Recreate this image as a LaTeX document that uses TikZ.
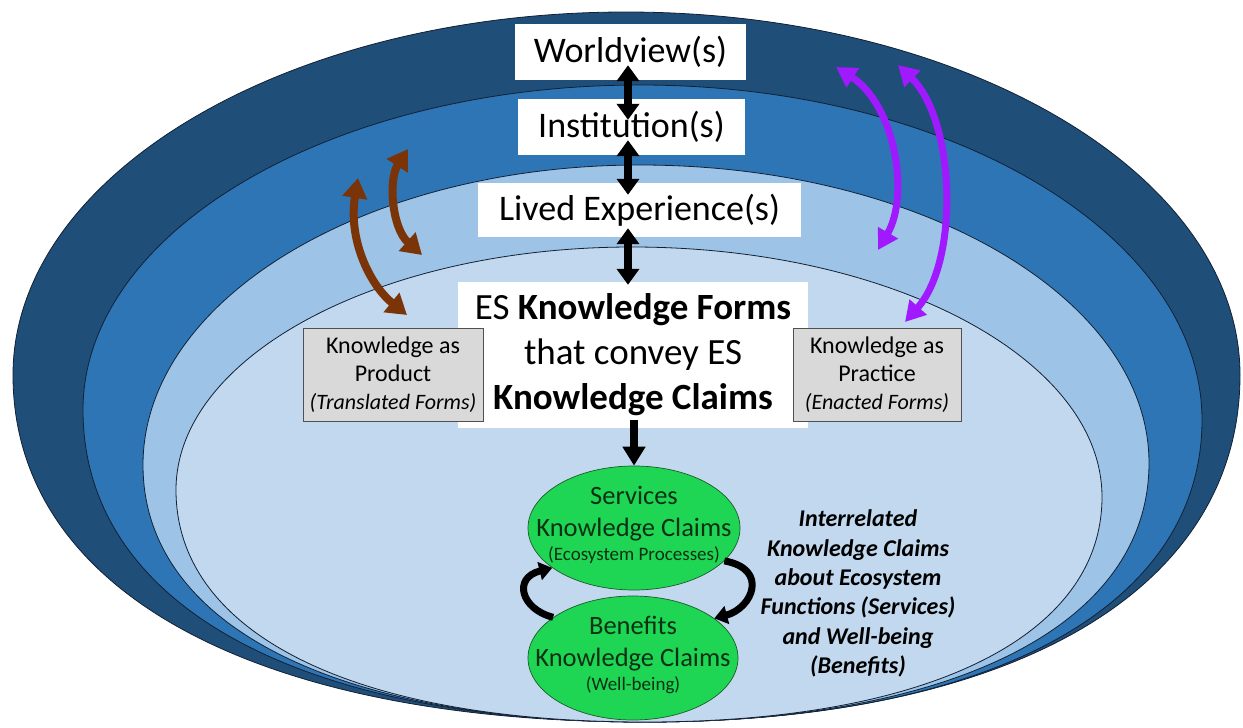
\documentclass[tikz,border=0pt]{standalone}
\usepackage{fontspec}
\setmainfont{Carlito}
\usetikzlibrary{arrows.meta,shapes.geometric,calc}

\definecolor{ringA}{RGB}{31,78,121}
\definecolor{ringB}{RGB}{46,117,182}
\definecolor{ringC}{RGB}{157,195,230}
\definecolor{ringD}{RGB}{194,216,238}
\definecolor{ringline}{RGB}{18,32,52}
\definecolor{boxgray}{RGB}{217,217,217}
\definecolor{boxline}{RGB}{80,80,80}
\definecolor{leaf}{RGB}{30,214,84}
\definecolor{leafline}{RGB}{30,90,40}
\definecolor{leaftext}{RGB}{12,48,20}
\definecolor{brownlink}{RGB}{122,52,8}
\definecolor{violetlink}{RGB}{160,25,255}

\begin{document}
\begin{tikzpicture}[x=1pt,y=-1pt,
  ring/.style={draw=ringline,line width=0.8pt},
  whitebox/.style={fill=white,inner sep=0pt,align=center},
  bigtext/.style={font=\fontsize{36}{45}\selectfont},
  graybox/.style={fill=boxgray,draw=boxline,line width=0.8pt,inner sep=0pt,
    align=center,font=\fontsize{24}{28}\selectfont},
  claim/.style={ellipse,fill=leaf,draw=leafline,line width=0.7pt,inner sep=0pt,
    minimum width=212pt,minimum height=124pt},
  claimtext/.style={align=center,text=leaftext,inner sep=0pt,
    font=\fontsize{26.5}{32}\selectfont},
  levelarrow/.style={line width=8pt,
    {Triangle[length=16pt,width=22pt]}-{Triangle[length=16pt,width=22pt]}},
  downarrow/.style={line width=8pt,-{Triangle[length=19pt,width=22pt]}},
  looparrow/.style={line width=7pt,-{Triangle[length=13pt,width=18pt]}},
  productlink/.style={draw=brownlink,line width=8pt,
    {Triangle[length=20pt,width=24pt]}-{Triangle[length=20pt,width=24pt]}},
  practicelink/.style={draw=violetlink,line width=7pt,
    {Triangle[length=20pt,width=22pt]}-{Triangle[length=20pt,width=22pt]}}
]
\useasboundingbox[fill=white] (0,0) rectangle (1243,728);

% nested layers: elliptic tops, fuller bottoms meeting at one low point
\filldraw[ring,fill=ringA] (13,375)
  .. controls (13,174.5) and (287.4,12) .. (626,12)
  .. controls (965.1,12) and (1240,174.5) .. (1240,375)
  .. controls (1240,590.1) and (1013.9,722) .. (645,722)
  .. controls (253.2,722) and (13,590.1) .. cycle;
\filldraw[ring,fill=ringB] (83,410)
  .. controls (83,230.5) and (332.4,85) .. (640,85)
  .. controls (950.4,85) and (1202,235) .. (1202,420)
  .. controls (1202,607.2) and (990.3,722) .. (645,722)
  .. controls (296.6,722) and (83,603.4) .. cycle;
\filldraw[ring,fill=ringC] (143,465)
  .. controls (143,299.3) and (365.5,165) .. (640,165)
  .. controls (921.1,165) and (1149,298.4) .. (1149,463)
  .. controls (1149,623.6) and (957.5,722) .. (645,722)
  .. controls (333.8,722) and (143,624.3) .. cycle;
\filldraw[ring,fill=ringD] (176,490)
  .. controls (176,355.8) and (380.2,247) .. (632,247)
  .. controls (891.6,247) and (1102,358.9) .. (1102,497)
  .. controls (1102,636.5) and (928.3,722) .. (645,722)
  .. controls (354.2,722) and (176,633.8) .. cycle;

% level labels
\node[whitebox,bigtext,minimum width=231pt,minimum height=56pt] (wv) at (630.5,52) {Worldview(s)};
\node[whitebox,bigtext,minimum width=227pt,minimum height=56pt] (inst) at (631.5,127) {Institution(s)};
\node[whitebox,bigtext,minimum width=323pt,minimum height=54pt] (lived) at (639.5,210) {Lived Experience(s)};
\node[whitebox,font=\fontsize{37}{45}\selectfont,minimum width=350pt,minimum height=146pt] (forms) at (633,355)
  {ES \textbf{Knowledge Forms}\\that convey ES\\\textbf{Knowledge Claims}};

% knowledge as product / practice
\node[graybox,minimum width=180pt,minimum height=93pt] (product) at (393,374.5)
  {Knowledge as\\Product\\{\fontsize{22}{28}\selectfont\itshape (Translated Forms)}};
\node[graybox,minimum width=168pt,minimum height=93pt] (practice) at (877,374.5)
  {Knowledge as\\Practice\\{\fontsize{22}{28}\selectfont\itshape (Enacted Forms)}};

% claims
\node[claim] (serv) at (634,528) {};
\node[claimtext] (servtext) at (serv.center)
  {Services\\Knowledge Claims\\[-8pt]{\fontsize{19}{20}\selectfont (Ecosystem Processes)\rule[-10pt]{0pt}{10pt}}};
\node[claim,minimum width=210pt] (ben) at (633,658) {};
\node[claimtext] (bentext) at (ben.center)
  {Benefits\\Knowledge Claims\\[-8pt]{\fontsize{19}{20}\selectfont (Well-being)\rule[-10pt]{0pt}{10pt}}};

\node[align=center,font=\fontsize{24}{29.3}\selectfont\bfseries\itshape] (note) at (858,593.5)
  {Interrelated\\Knowledge Claims\\about Ecosystem\\Functions (Services)\\and Well-being\\(Benefits)};

% links between levels
\coordinate (ax) at (628,0);
\draw[levelarrow,shorten <=-15pt,shorten >=-21pt] (ax |- wv.south) -- (ax |- inst.north);
\draw[levelarrow,shorten <=-15pt,shorten >=-12pt] (ax |- inst.south) -- (ax |- lived.north);
\draw[levelarrow,shorten <=-9pt,shorten >=-3pt] (ax |- lived.south) -- (ax |- forms.north);
\draw[downarrow,shorten <=-8pt] (serv.north |- forms.south) -- (serv.north);

% services <-> benefits loop
\draw[looparrow] (ben.153) .. controls +(-32,-8) and +(-40,10) .. (serv.206);
\draw[looparrow] (serv.340) .. controls +(45,8) and +(38,-10) .. (ben.26);

% product links
\coordinate (pa1) at (358,178);
\coordinate (pa2) at (407,315);
\coordinate (pb1) at (408,149);
\coordinate (pb2) at (422,255);
\draw[productlink] (pa1) .. controls (348,240) and (370,285) .. (pa2);
\draw[productlink] (pb1) .. controls (388,180) and (392,228) .. (pb2);

% practice links
\coordinate (pc1) at (836,67);
\coordinate (pc2) at (878,250);
\coordinate (pd1) at (898,65);
\coordinate (pd2) at (905,322);
\draw[practicelink] (pc1) .. controls (895,105) and (910,195) .. (pc2);
\draw[practicelink] (pd1) .. controls (955,120) and (960,260) .. (pd2);
\end{tikzpicture}
\end{document}
